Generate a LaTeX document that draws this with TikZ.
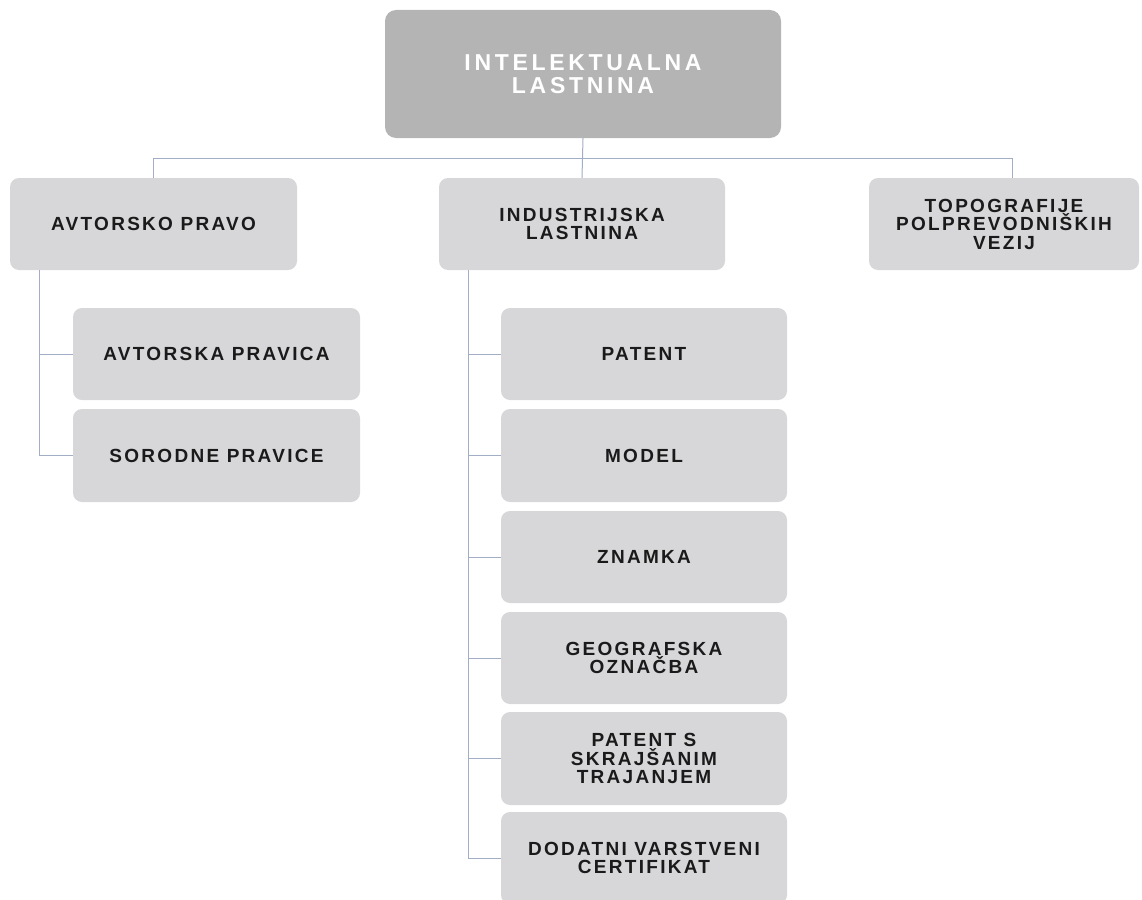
\documentclass[tikz,border=0pt]{standalone}
\usepackage{fontspec}
\newfontfamily\lbl{Liberation Sans}[LetterSpace=12]
\newfontfamily\toplbl{Liberation Sans}[LetterSpace=16]
\definecolor{topfill}{HTML}{B4B4B4}
\definecolor{boxfill}{HTML}{D7D7D9}
\definecolor{linec}{HTML}{A2AEC6}
\definecolor{txt}{HTML}{1A1A1A}
\tikzset{
  box/.style={rectangle, rounded corners=9pt, fill=boxfill, draw=none, inner sep=0pt,
    align=center, text=txt, font=\lbl\bfseries\fontsize{19}{18.5}\selectfont,
    minimum width=287pt, minimum height=92pt},
  topbox/.style={box, fill=topfill, text=white, font=\toplbl\bfseries\fontsize{23}{23}\selectfont,
    minimum width=396pt, minimum height=128pt, rounded corners=11pt},
  conn/.style={draw=linec, line width=1pt}
}
\begin{document}
\begin{tikzpicture}[x=1pt,y=-1pt]
\useasboundingbox (0,0) rectangle (1142,899);
\clip (0,0) rectangle (1142,899);
% top
\node[topbox] (top) at (583,74) {\raisebox{-2pt}{\parbox{320pt}{\centering INTELEKTUALNA\\LASTNINA}}};
% level 2
\node[box] (avt) at (153.5,224) {AVTORSKO PRAVO};
\node[box, minimum width=286pt] (ind) at (582,224) {INDUSTRIJSKA\\LASTNINA};
\node[box, minimum width=270pt] (topo) at (1004,224) {TOPOGRAFIJE\\POLPREVODNIŠKIH\\VEZIJ};
% avtorsko children
\node[box] (ap) at (216.5,354) {AVTORSKA PRAVICA};
\node[box, minimum height=93pt] (sp) at (216.5,455.5) {SORODNE PRAVICE};
% industrijska children
\node[box, minimum width=286pt] (pat) at (644,354) {PATENT};
\node[box, minimum width=286pt, minimum height=93pt] (mod) at (644,455.5) {MODEL};
\node[box, minimum width=286pt] (zna) at (644,557) {ZNAMKA};
\node[box, minimum width=286pt] (geo) at (644,658) {GEOGRAFSKA\\OZNAČBA};
\node[box, minimum width=286pt, minimum height=93pt] (psk) at (644,758.5) {PATENT S\\SKRAJŠANIM\\TRAJANJEM};
\node[box, minimum width=286pt] (dvc) at (644,858) {DODATNI VARSTVENI\\CERTIFIKAT};
% connectors
\coordinate (bus) at (583,158);
\draw[conn] (top.south) -- (ind.north);
\draw[conn] (avt.north) |- (bus);
\draw[conn] ([xshift=8pt]topo.north) |- (bus);
\coordinate (avtroot) at ([xshift=30pt]avt.south west);
\draw[conn] (avtroot) |- (ap.west);
\draw[conn] (avtroot) |- (sp.west);
\coordinate (indroot) at ([xshift=30pt]ind.south west);
\foreach \c in {pat,mod,zna,geo,psk,dvc}{
  \draw[conn] (indroot) |- (\c.west);
}
\end{tikzpicture}
\end{document}
